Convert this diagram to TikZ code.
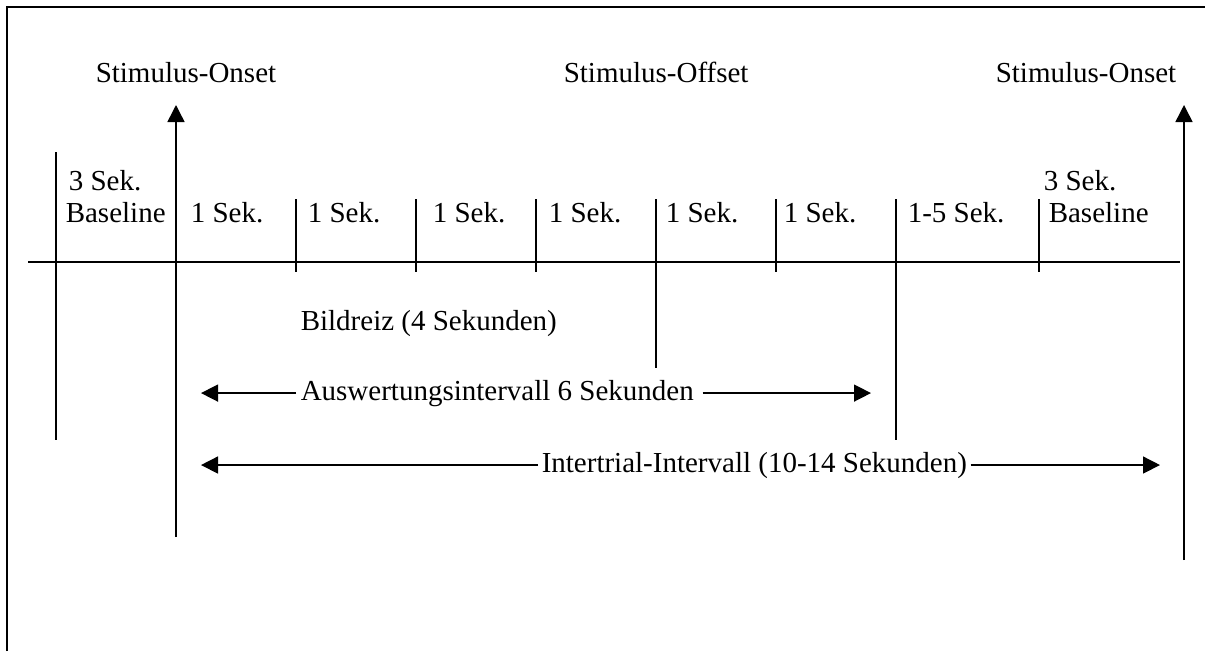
\documentclass[tikz,border=0pt]{standalone}
\usepackage{fontspec}
\setmainfont{Liberation Serif}
\usetikzlibrary{arrows.meta}
\begin{document}
\begin{tikzpicture}[x=1pt,y=-1pt,line width=1.5pt,
  lbl/.style={inner sep=0pt,anchor=base west,font=\fontsize{29}{34}\selectfont},
  tip/.style={-{Triangle[length=17pt,width=17pt]}},
  frameline/.style={line width=1.6pt}]
\useasboundingbox (0,0) rectangle (1205,651);
% frame (cropped)
\draw[frameline] (7,651) -- (7,7) -- (1205,7);
% timeline
\coordinate (tlL) at (28,262);
\coordinate (tlR) at (1180,262);
\draw (tlL) -- (tlR);
% ticks
\foreach \x in {296,416,536,776,1039} \draw (\x,199) -- (\x,272);
\draw (656,199) -- (656,368);
\draw (896,199) -- (896,440);
\draw (56,152) -- (56,440);
% onset arrows
\coordinate (onAbot) at (176,537);
\coordinate (onAtop) at (176,105);
\coordinate (onBbot) at (1184,560);
\coordinate (onBtop) at (1184,105);
\draw[tip] (onAbot) -- (onAtop);
\draw[tip] (onBbot) -- (onBtop);
% top labels
\node[lbl] (on1) at (95,82) {Stimulus-Onset};
\node[lbl] (off) at (563,82) {Stimulus-Offset};
\node[lbl] (on2) at (995,82) {Stimulus-Onset};
% segment labels
\node[lbl] (bl1a) at (68,190) {3 Sek.};
\node[lbl] (bl1b) at (65,222) {Baseline};
\node[lbl] (s1) at (190,222) {1 Sek.};
\node[lbl] (s2) at (307,222) {1 Sek.};
\node[lbl] (s3) at (432,222) {1 Sek.};
\node[lbl] (s4) at (548,222) {1 Sek.};
\node[lbl] (s5) at (665,222) {1 Sek.};
\node[lbl] (s6) at (783,222) {1 Sek.};
\node[lbl] (s7) at (907,222) {1-5 Sek.};
\node[lbl] (bl2a) at (1043,190) {3 Sek.};
\node[lbl] (bl2b) at (1048,222) {Baseline};
% lower labels
\node[lbl] (bild) at (300,330) {Bildreiz (4 Sekunden)};
\node[lbl,inner xsep=4pt] (aw) at (296,400) {Auswertungsintervall 6 Sekunden};
\node[lbl,inner xsep=3pt] (it) at (538,472) {Intertrial-Intervall (10-14 Sekunden)};
\coordinate (tipL) at (201,0);
\coordinate (tipAW) at (871,0);
\coordinate (tipIT) at (1160,0);
\draw[tip] (aw.west) -- (aw.west -| tipL);
\draw[tip] ([xshift=4pt]aw.east) -- (aw.east -| tipAW);
\draw[tip] (it.west) -- (it.west -| tipL);
\draw[tip] (it.east) -- (it.east -| tipIT);
\end{tikzpicture}
\end{document}
